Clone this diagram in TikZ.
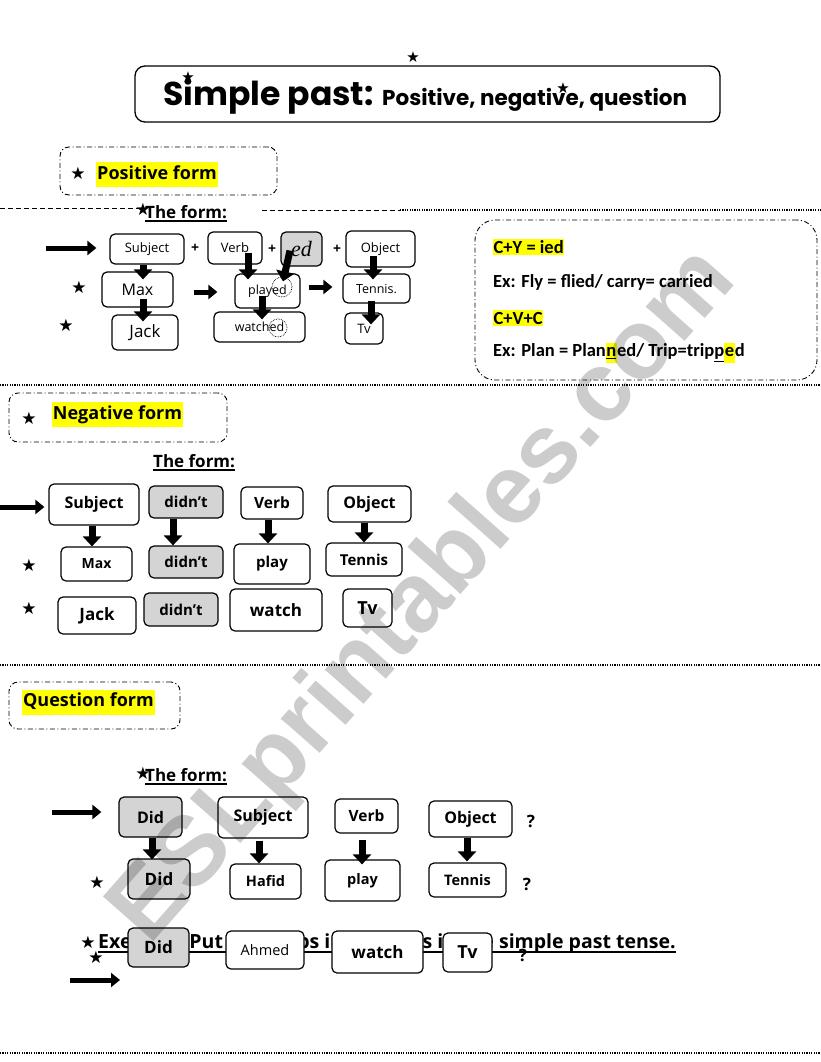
\documentclass[tikz,border=0pt]{standalone}
\usepackage{fontspec}
\setmainfont{Open Sans}
\newfontfamily\titlefont{Poppins}
\newfontfamily\calfont{Carlito}
\newfontfamily\symfont{DejaVu Sans}
\newfontfamily\markfont{Liberation Sans}
\newfontfamily\edfont{Liberation Serif}
\usepackage{xcolor}
\usetikzlibrary{arrows.meta, calc}

\definecolor{hlyellow}{HTML}{FFFF00}
\definecolor{boxgray}{HTML}{D4D4D4}

\newcommand{\fsz}[1]{\fontsize{#1}{#1}\selectfont}
\newcommand{\hlbox}[1]{{\setlength{\fboxsep}{0.6pt}\colorbox{hlyellow}{\strut #1}}}

\begin{document}
\begin{tikzpicture}[
  x=1pt, y=-1pt,
  wordbox/.style={draw, rounded corners=5pt, line width=1.2pt, fill=white,
    inner sep=1pt, align=center, font=\fsz{13}},
  greybox/.style={wordbox, fill=boxgray},
  dashframe/.style={draw, rounded corners=9pt, line width=0.9pt,
    dash pattern=on 5pt off 2.5pt on 1pt off 2.5pt},
  hilite/.style={fill=hlyellow, inner xsep=1pt, inner ysep=3pt,
    text height=14pt, text depth=5pt, font=\bfseries\fsz{18}},
  formtitle/.style={inner sep=0pt, font=\bfseries\fsz{17}},
  sidearrow/.style={line width=5pt, -{Triangle[length=9pt,width=14pt]}},
  downarrow/.style={line width=7pt, -{Triangle[length=10pt,width=18pt]}},
  stardot/.style={inner sep=0pt, font=\symfont\fsz{17}},
  plussign/.style={inner sep=0pt, font=\bfseries\fsz{14}},
  dotline/.style={line width=1.2pt, dash pattern=on 1.2pt off 1.2pt},
  dashline/.style={line width=0.8pt, dash pattern=on 5pt off 3pt},
  rulebox/.style={anchor=west, inner sep=0pt, font=\calfont\bfseries\fsz{18.5}}
]
\fill[white] (0,0) rectangle (821,1062);
\useasboundingbox (0,0) rectangle (821,1062);

% title
\node[draw, rounded corners=10pt, line width=1.3pt, minimum width=585pt,
  minimum height=56pt] (titlebox) at (427.5,94) {};
\node[anchor=base west, inner sep=0pt, font=\titlefont\bfseries\fsz{33}] (titlemain)
  at (163,106) {Simple past:};
\node[anchor=base west, inner sep=0pt, font=\titlefont\bfseries\fsz{21.5}] (titlesub)
  at (382,106) {Positive, negative, question};
\node[stardot, font=\symfont\fsz{15}] (tstara) at (413,57) {★};
\node[stardot, font=\symfont\fsz{15}] (tstarb) at (188,77) {★};
\node[stardot, font=\symfont\fsz{15}] (tstarc) at (563,88) {★};

% positive form
\node[dashframe, minimum width=217pt, minimum height=48pt] (posframe) at (168.5,171) {};
\node[stardot] (posstar) at (78,173) {★};
\node[hilite, anchor=west] (postitle) at (96,174.5) {Positive form};

\draw[dashline] (0,208) -- (140,208);
\draw[dashline] (262,210) -- (400,210);
\draw[dotline] (400,210) -- (821,210);

\node[formtitle, anchor=base west] (posform) at (145,218) {The form:};
\draw[line width=1.2pt] ([yshift=-3pt]posform.base west) -- ([yshift=-3pt]posform.base east);
\node[stardot] (posfstar) at (143,209) {★};

\node[wordbox, minimum width=74pt, minimum height=30pt] (pSubj) at (147,249) {Subject};
\node[wordbox, minimum width=54pt, minimum height=32pt] (pVerb) at (235,248) {Verb};
\node[greybox, minimum width=41pt, minimum height=34pt, font=\edfont\itshape\fsz{22}] (pEd)
  at (301.5,249) {ed};
\node[wordbox, minimum width=69pt, minimum height=36pt] (pObj) at (380.5,249) {Object};
\node[plussign] (plusa) at (195,248) {+};
\node[plussign] (plusb) at (272,249) {+};
\node[plussign] (plusc) at (337,249) {+};

\node[wordbox, minimum width=71pt, minimum height=35pt, font=\fsz{16}] (pMax) at (137.5,289.5) {Max};
\node[wordbox, minimum width=66pt, minimum height=35pt, font=\fsz{17}] (pJack) at (145,332.5) {Jack};
\node[wordbox, minimum width=65pt, minimum height=34pt, font=\fsz{12.5}] (pPlayed) at (267.5,291) {played};
\node[wordbox, minimum width=91pt, minimum height=30pt, font=\fsz{12.5}] (pWatched) at (259.5,327) {watched};
\node[wordbox, minimum width=67pt, minimum height=29pt, font=\fsz{12.5}] (pTennis) at (376.5,288.5) {Tennis.};
\node[wordbox, minimum width=38pt, minimum height=31pt] (pTv) at (364,328.5) {Tv};
\draw[densely dotted, line width=0.7pt] (282,287) circle (10pt);
\draw[densely dotted, line width=0.7pt] (278,328) circle (9pt);

\node[stardot] (pstara) at (79,287) {★};
\node[stardot] (pstarb) at (66,325) {★};

\coordinate (posin) at (46,248);
\draw[sidearrow] (posin) -- ($(pSubj.west)+(-13,-1)$);
\draw[sidearrow] ($(pMax.east)+(20,2.5)$) -- ($(pPlayed.west)+(-17,1)$);
\draw[sidearrow] ($(pPlayed.east)+(8,-4)$) -- ($(pTennis.west)+(-10,-1.5)$);

\draw[downarrow] ($(pSubj.south)+(-4,0)$) -- ($(pMax.north)+(5.5,8)$);
\draw[downarrow] ($(pMax.south)+(5.5,-9)$) -- ($(pJack.north)+(-2,7)$);
\draw[downarrow] ($(pVerb.south)+(13,-12)$) -- ($(pPlayed.north)+(-19.5,6)$);
\draw[downarrow] ($(pEd.south)+(-11.5,-16)$) -- ($(pPlayed.north)+(15.5,8)$);
\draw[downarrow] ($(pPlayed.south)+(-5.5,-13)$) -- ($(pWatched.north)+(2.5,8)$);
\draw[downarrow] ($(pObj.south)+(-7.5,-12)$) -- ($(pTennis.north)+(-3.5,6)$);
\draw[downarrow] ($(pTennis.south)+(-5.5,-3)$) -- ($(pTv.north)+(7,12)$);

% spelling rules
\node[dashframe, rounded corners=20pt, minimum width=342pt, minimum height=160pt]
  (rulesframe) at (646,300) {};
\node[rulebox, fill=hlyellow, inner xsep=0.5pt, inner ysep=1.5pt] (ruleA) at (493,247) {C+Y = ied};
\node[rulebox] (ruleB) at (493,282) {Ex: Fly = flied/ carry= carried};
\node[rulebox, fill=hlyellow, inner xsep=0.5pt, inner ysep=1.5pt] (ruleC) at (493,318) {C+V+C};
\node[rulebox] (ruleD) at (493,353)
  {Ex: Plan = Plan\hlbox{\underline{n}}ed/ Trip=trip\underline{p}\hlbox{e}d};

\draw[dotline] (0,385) -- (821,385);

% negative form
\node[dashframe, minimum width=218pt, minimum height=49pt] (negframe) at (118,417.5) {};
\node[stardot] (negstar) at (29,418) {★};
\node[hilite] (negtitle) at (117.5,414.5) {Negative form};
\node[formtitle, anchor=base west] (negform) at (153,467) {The form:};
\draw[line width=1.2pt] ([yshift=-3pt]negform.base west) -- ([yshift=-3pt]negform.base east);

\node[wordbox, minimum width=90pt, minimum height=41pt, font=\bfseries\fsz{16}] (nSubj) at (94,504.5) {Subject};
\node[greybox, minimum width=74pt, minimum height=32pt, font=\bfseries\fsz{15}] (nDidnt) at (186,502) {didn't};
\node[wordbox, minimum width=62pt, minimum height=32pt, font=\bfseries\fsz{15.5}] (nVerb) at (272,503) {Verb};
\node[wordbox, minimum width=83pt, minimum height=36pt, font=\bfseries\fsz{16}] (nObj) at (369.5,504) {Object};
\node[wordbox, minimum width=71pt, minimum height=34pt, font=\bfseries\fsz{14}] (nMax) at (96.5,564) {Max};
\node[greybox, minimum width=74pt, minimum height=32pt, font=\bfseries\fsz{15}] (nDidntb) at (186,562) {didn't};
\node[wordbox, minimum width=76pt, minimum height=40pt, font=\bfseries\fsz{15}] (nPlay) at (272,564) {play};
\node[wordbox, minimum width=76pt, minimum height=33pt, font=\bfseries\fsz{15}] (nTennis) at (364,559.5) {Tennis};
\node[wordbox, minimum width=78pt, minimum height=37pt, font=\bfseries\fsz{17}] (nJack) at (97,615.5) {Jack};
\node[greybox, minimum width=74pt, minimum height=33pt, font=\bfseries\fsz{15}] (nDidntc) at (181,609.5) {didn't};
\node[wordbox, minimum width=92pt, minimum height=42pt, font=\bfseries\fsz{17}] (nWatch) at (276,610) {watch};
\node[wordbox, minimum width=49pt, minimum height=38pt, font=\bfseries\fsz{18}] (nTv) at (367.5,608) {Tv};
\node[stardot] (nstara) at (29,565) {★};
\node[stardot] (nstarb) at (29,608) {★};

\coordinate (negin) at (0,507);
\draw[sidearrow] (negin) -- ($(nSubj.west)+(-4,2.5)$);
\draw[downarrow] ($(nSubj.south)+(-2,0)$) -- ($(nMax.north)+(-4.5,0)$);
\draw[downarrow] ($(nDidnt.south)+(-13,0)$) -- ($(nDidntb.north)+(-13,0)$);
\draw[downarrow] ($(nVerb.south)+(-4,0)$) -- ($(nPlay.north)+(-4,0)$);
\draw[downarrow] ($(nObj.south)+(-5.5,0)$) -- (nTennis.north);

\draw[dotline] (0,665) -- (821,665);

% question form
\node[dashframe, minimum width=171pt, minimum height=47pt] (qframe) at (94.5,705.5) {};
\node[hilite] (qtitle) at (88.5,702) {Question form};
\node[formtitle, anchor=base west] (qform) at (145,781) {The form:};
\draw[line width=1.2pt] ([yshift=-3pt]qform.base west) -- ([yshift=-3pt]qform.base east);
\node[stardot] (qfstar) at (143,773) {★};

\node[greybox, minimum width=63pt, minimum height=40pt, font=\bfseries\fsz{16}] (qDid) at (150.5,817) {Did};
\node[wordbox, minimum width=90pt, minimum height=41pt, font=\bfseries\fsz{16}] (qSubj) at (263,817.5) {Subject};
\node[wordbox, minimum width=63pt, minimum height=34pt, font=\bfseries\fsz{15.5}] (qVerb) at (366.5,816) {Verb};
\node[wordbox, minimum width=83pt, minimum height=36pt, font=\bfseries\fsz{16}] (qObj) at (470.5,819) {Object};
\node[plussign, font=\bfseries\fsz{17}] (qmarka) at (531,821) {?};
\node[greybox, minimum width=62pt, minimum height=40pt, font=\bfseries\fsz{17}] (qDidb) at (159,879) {Did};
\node[wordbox, minimum width=71pt, minimum height=35pt, font=\bfseries\fsz{14.5}] (qHafid) at (265.5,881.5) {Hafid};
\node[wordbox, minimum width=75pt, minimum height=41pt, font=\bfseries\fsz{14.5}] (qPlay) at (362.5,880.5) {play};
\node[wordbox, minimum width=77pt, minimum height=34pt, font=\bfseries\fsz{14.5}] (qTennis) at (467.5,880) {Tennis};
\node[plussign, font=\bfseries\fsz{17}] (qmarkb) at (527,884) {?};
\node[stardot] (qstar) at (97,882) {★};

\coordinate (qin) at (52,812);
\draw[sidearrow] (qin) -- ($(qDid.west)+(-17,-5)$);
\draw[downarrow] ($(qDid.south)+(1.5,0)$) -- ($(qDidb.north)+(-7,1)$);
\draw[downarrow] ($(qSubj.south)+(-4,2)$) -- ($(qHafid.north)+(-6.5,0)$);
\draw[downarrow] ($(qVerb.south)+(-4.5,6)$) -- ($(qPlay.north)+(-0.5,5)$);
\draw[downarrow] ($(qObj.south)+(-3.5,0)$) -- ($(qTennis.north)+(-0.5,-1)$);

% exercise
\node[anchor=base west, inner sep=0pt, font=\bfseries\fsz{19.5}] (extask) at (98,948)
  {Exercise: Put the verbs in brackets in the simple past tense.};
\draw[line width=1.3pt] ([yshift=-4pt]extask.base west) -- ([yshift=-4pt]extask.base east);
\node[stardot] (exstara) at (88,942) {★};
\node[stardot] (exstarb) at (96,957) {★};
\node[greybox, minimum width=61pt, minimum height=39pt, font=\bfseries\fsz{17}] (eDid) at (158.5,947.5) {Did};
\node[wordbox, minimum width=78pt, minimum height=38pt, font=\fsz{14.5}] (eAhmed) at (265,950) {Ahmed};
\node[wordbox, minimum width=91pt, minimum height=42pt, font=\bfseries\fsz{17}] (eWatch) at (377.5,952) {watch};
\node[wordbox, minimum width=49pt, minimum height=39pt, font=\bfseries\fsz{18}] (eTv) at (467.5,952.5) {Tv};
\node[plussign, font=\bfseries\fsz{17}] (exmark) at (523,955) {?};
\coordinate (exin) at (70,980);
\coordinate (exout) at (120,980);
\draw[sidearrow] (exin) -- (exout);

\draw[dotline] (0,1053) -- (821,1053);

% watermark
\node[rotate=48.5, inner sep=0pt, opacity=0.2, font=\markfont\bfseries\fsz{98}] (wmark)
  at (425,597) {ESLprintables.com};
\end{tikzpicture}
\end{document}
